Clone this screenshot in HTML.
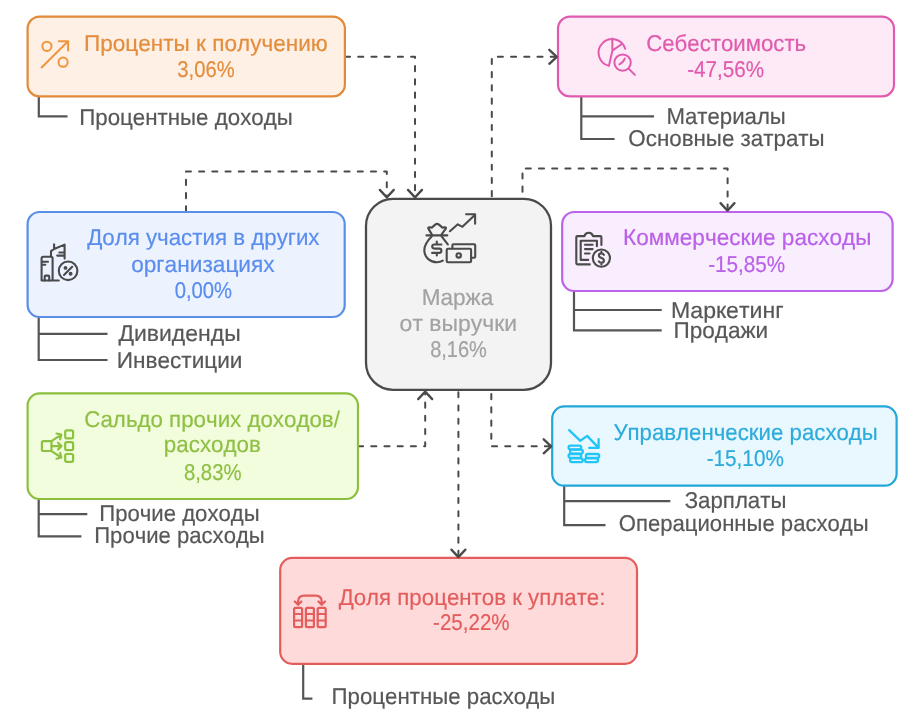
<!DOCTYPE html><html><head><meta charset="utf-8"><style>html,body{margin:0;padding:0;background:#fff;overflow:hidden}svg{display:block;will-change:transform}text{font-family:"Liberation Sans",sans-serif;font-size:22.8px;font-kerning:none;text-rendering:geometricPrecision;stroke-width:0.2px;paint-order:stroke}</style></head><body>
<svg width="921" height="724" viewBox="0 0 921 724">
<rect width="921" height="724" fill="#fff"/>
<g fill="none" stroke="#4A4A4A" stroke-width="2" stroke-linecap="round" stroke-linejoin="round" stroke-dasharray="5.1 8.12">
<path d="M345,56.8 H415 V197"/>
<path d="M186,211.4 V171.6 H386.8 V197"/>
<path d="M491.8,196.2 V56.8 H557"/>
<path d="M522.5,191.7 V168.5 H727.6 V211"/>
<path d="M358,446.2 H425.2 V391"/>
<path d="M491.3,394.1 V446.3 H551.5"/>
<path d="M458.4,392.2 V557"/>
</g>
<g fill="none" stroke="#555555" stroke-width="2.2" stroke-linecap="butt" stroke-linejoin="miter">
<path d="M38.8,96.4 V116.4 H67.5"/>
<path d="M581.3,96.4 V139.0 H614.6 M581.3,116.4 H654.0"/>
<path d="M38.7,317.0 V360.0 H107.5 M38.7,333.9 H107.5"/>
<path d="M574.0,291.0 V330.4 H661.7 M574.0,310.0 H661.7"/>
<path d="M38.7,499.0 V536.4 H81.4 M38.7,514.2 H87.3"/>
<path d="M564.2,485.7 V525.2 H605.5 M564.2,501.1 H670.3"/>
<path d="M303.2,663.8 V698.7 H312.4"/>
</g>
<rect x="27.6" y="16.6" width="317.3" height="79.8" rx="12" fill="#FEF0E4" stroke="#E28A38" stroke-width="2.2"/>
<rect x="558.0" y="16.6" width="336.0" height="79.8" rx="12" fill="#FDEAF6" stroke="#E05BAE" stroke-width="2.2"/>
<rect x="27.6" y="212.0" width="317.1" height="105.0" rx="12" fill="#EDF3FE" stroke="#5B8EE6" stroke-width="2.2"/>
<rect x="562.2" y="212.0" width="330.4" height="79.0" rx="12" fill="#F8EEFE" stroke="#BD62EA" stroke-width="2.2"/>
<rect x="27.6" y="393.4" width="330.4" height="105.6" rx="12" fill="#F2FDDD" stroke="#8CBF3E" stroke-width="2.2"/>
<rect x="552.2" y="406.4" width="344.4" height="79.3" rx="12" fill="#E8F8FE" stroke="#22A7D8" stroke-width="2.2"/>
<rect x="280.2" y="557.9" width="356.8" height="105.9" rx="12" fill="#FFDADA" stroke="#E35D5D" stroke-width="2.2"/>
<rect x="366.0" y="198.8" width="185.0" height="191.0" rx="27" fill="#F3F3F3" stroke="#4A4A4A" stroke-width="2.3"/>
<g fill="none" stroke="#4A4A4A" stroke-width="2.3" stroke-linecap="round" stroke-linejoin="round">
<polyline points="408.0,189.9 415.0,197.4 422.0,189.9"/>
<polyline points="379.8,189.9 386.8,197.4 393.8,189.9"/>
<polyline points="549.3,49.8 556.8,56.8 549.3,63.8"/>
<polyline points="720.5,203.1 727.5,210.6 734.5,203.1"/>
<polyline points="418.2,399.1 425.2,391.6 432.2,399.1"/>
<polyline points="543.7,439.3 551.2,446.3 543.7,453.3"/>
<polyline points="451.4,549.6 458.4,557.1 465.4,549.6"/>
</g>
<g fill="none" stroke="#F0943E" stroke-width="2.0" stroke-linecap="round" stroke-linejoin="round">
<circle cx="46.9" cy="46.3" r="4.6"/><circle cx="63.1" cy="62.2" r="4.6"/>
<path d="M41.6,67.5 L68.1,41.2 M58.8,41.2 H68.1 V50.5"/></g>
<g fill="none" stroke="#E05AAE" stroke-width="2.0" stroke-linecap="round" stroke-linejoin="round">
<path d="M625.2,48.8 A13.6,13.6 0 1 0 608.9,65.9 L612.4,50.6 L612.3,38.6 M612.4,50.6 L622.2,43.8"/>
<circle cx="622.6" cy="62.6" r="8.2"/><path d="M628.6,68.6 L634.9,74.9 M619.4,64.3 Q623.4,62.4 624.8,58.5"/></g>
<g fill="none" stroke="#4A4A4A" stroke-width="2.1" stroke-linecap="round" stroke-linejoin="round">
<path d="M41.6,280.5 V258.3 Q41.6,256.7 43.2,256.7 H51 Q52.6,256.7 52.6,258.3 V280.5 M41.6,280.5 H58.8"/>
<path d="M44.7,280.4 V276.6 Q44.7,275.6 45.7,275.6 H48.2 Q49.2,275.6 49.2,276.6 V280.4"/>
<path d="M42.8,261.8 H48 M42.8,264.7 H45.3"/>
<path d="M51,256.6 V251.2 L54.1,249 L64.6,244.6 V258.6 M54.1,249 V244.3 M59.3,252.5 H64.4 M57.2,255.6 H64.4"/>
<circle cx="68.1" cy="270.8" r="9.3"/><path d="M64,275 L72.2,266.8"/>
<circle cx="65.5" cy="267.9" r="0.9" fill="#4A4A4A"/><circle cx="70.6" cy="273.8" r="0.9" fill="#4A4A4A"/></g>
<g fill="none" stroke="#4A4A4A" stroke-width="2.1" stroke-linecap="round" stroke-linejoin="round">
<path d="M589.8,264.4 H577.4 Q576.3,264.4 576.3,263.3 V237.2 Q576.3,236.1 577.4,236.1 H584.4 C585.1,233.6 586.6,232.7 588.7,232.7 C590.8,232.7 592.3,233.6 593,236.1 H600.3 Q601.4,236.1 601.4,237.2 V245"/>
<path d="M588.2,259.9 H580.7 V240.8 H596.9 V246.2"/>
<path d="M585,244.8 H592.6 M585,249.1 H592.6 M585,253.5 H589.5"/>
<circle cx="601.4" cy="258.1" r="8.6"/>
<path d="M603.9,254.9 Q603.2,253.4 601.4,253.4 Q598.9,253.4 598.9,255.6 Q598.9,257.4 601.4,257.9 Q603.9,258.5 603.9,260.6 Q603.9,262.8 601.4,262.8 Q599.4,262.8 598.8,261.4 M601.4,251.8 V253.4 M601.4,262.8 V264.4"/></g>
<g fill="none" stroke="#8CC240" stroke-width="2.2" stroke-linecap="round" stroke-linejoin="round">
<rect x="41.9" y="441.2" width="9.6" height="9.8" rx="1.6"/>
<rect x="65.2" y="430.4" width="7.9" height="7.9" rx="1.6"/><rect x="65.2" y="442.2" width="7.9" height="7.9" rx="1.6"/><rect x="65.2" y="454" width="7.9" height="7.9" rx="1.6"/>
<path d="M51.5,441.2 L61.3,434.6 M56.5,433.5 L61.3,434.6 L60.2,439.3 M51.5,446.1 H61.5 M58,442.7 L61.5,446.1 L58,449.5 M51.5,451.1 L61.3,457.5 M56.5,458.7 L61.3,457.5 L60.2,452.9"/></g>
<g fill="none" stroke="#22C5F7" stroke-width="2.3" stroke-linecap="round" stroke-linejoin="round">
<path d="M569.2,430.1 L580.3,440.8 L587.2,435.9 L598.6,447.9 M598.6,439.1 V447.9 H589.2"/>
<rect x="568.6" y="445.6" width="12.6" height="3.7" rx="1.8"/><rect x="570.1" y="449.7" width="12.7" height="3.9" rx="1.9"/>
<rect x="568.6" y="454" width="12.6" height="3.9" rx="1.9"/><rect x="570.1" y="458.3" width="12.7" height="3.9" rx="1.9"/>
<rect x="585.9" y="454" width="13.3" height="3.9" rx="1.9"/><rect x="585.0" y="458.3" width="13" height="3.9" rx="1.9"/></g>
<g fill="none" stroke="#E35D5D" stroke-width="2.2" stroke-linecap="round" stroke-linejoin="round">
<rect x="294.1" y="607.8" width="8" height="19.4" rx="1.4"/><rect x="305.9" y="607.8" width="8" height="19.4" rx="1.4"/><rect x="317.7" y="607.8" width="8" height="19.4" rx="1.4"/>
<path d="M294.1,614 H302.1 M294.1,620.5 H302.1 M305.9,614 H313.9 M305.9,620.5 H313.9 M317.7,614 H325.7 M317.7,620.5 H325.7"/>
<path d="M298.1,604.8 V601.5 Q298.1,595.7 304.3,595.7 H315.5 Q321.7,595.7 321.7,601.5 V604.8 M294.8,601.5 L298.1,604.8 L301.4,601.5 M318.4,601.5 L321.7,604.8 L325,601.5"/></g>
<g fill="none" stroke="#4A4A4A" stroke-width="2.1" stroke-linecap="round" stroke-linejoin="round">
<path d="M431.8,234.4 L428.4,228.6 Q427.8,227.1 429.3,227.2 L431.8,227.6 L435.2,224.6 Q437.1,223.2 439,224.6 L442.4,227.6 L444.9,227.2 Q446.4,227.1 445.8,228.6 L441.6,234.4"/>
<path d="M426.5,235.4 H447.3"/>
<path d="M431.8,236.3 C427.2,241 424.3,245 424.3,250.2 C424.3,257.3 430,262.2 437.1,262.2 C439.3,262.2 441.2,261.6 442.8,260.6 M441.6,236.3 L447.8,244.4"/>
<path d="M441.4,244.5 H434.4 Q432.2,244.5 432.2,246.6 Q432.2,248.6 434.4,248.6 H439.3 Q441.4,248.6 441.4,250.8 Q441.4,252.9 439.3,252.9 H432.1 M436.8,241.6 V244.5 M436.8,252.9 V255.4"/>
<path d="M449.9,231.2 L457.8,224.3 L462.4,226.8 L475.1,214.7 M466.1,214.3 H475.1 V223.7"/>
<path d="M452.4,248.5 V245.2 Q452.4,244.2 453.4,244.2 H474.2 Q475.2,244.2 475.2,245.2 V256.8 Q475.2,257.8 474.2,257.8 H471.1"/>
<rect x="446.7" y="248.7" width="24.4" height="13.6" rx="1.2"/>
<circle cx="458.7" cy="255.4" r="2.2"/></g>
<text x="83.97" y="51.00" textLength="243.78" lengthAdjust="spacingAndGlyphs" fill="#E38D3D" stroke="#E38D3D">Проценты к получению</text>
<text x="177.33" y="77.00" textLength="57.29" lengthAdjust="spacingAndGlyphs" fill="#E38D3D" stroke="#E38D3D">3,06%</text>
<text x="79.24" y="125.00" textLength="213.50" lengthAdjust="spacingAndGlyphs" fill="#575757" stroke="#575757">Процентные доходы</text>
<text x="646.17" y="51.00" textLength="160.04" lengthAdjust="spacingAndGlyphs" fill="#E05AAE" stroke="#E05AAE">Себестоимость</text>
<text x="687.18" y="77.00" textLength="76.85" lengthAdjust="spacingAndGlyphs" fill="#E05AAE" stroke="#E05AAE">-47,56%</text>
<text x="666.48" y="124.00" textLength="119.36" lengthAdjust="spacingAndGlyphs" fill="#575757" stroke="#575757">Материалы</text>
<text x="628.34" y="146.00" textLength="196.31" lengthAdjust="spacingAndGlyphs" fill="#575757" stroke="#575757">Основные затраты</text>
<text x="87.14" y="245.00" textLength="232.40" lengthAdjust="spacingAndGlyphs" fill="#5A8DEE" stroke="#5A8DEE">Доля участия в других</text>
<text x="131.15" y="272.00" textLength="143.50" lengthAdjust="spacingAndGlyphs" fill="#5A8DEE" stroke="#5A8DEE">организациях</text>
<text x="174.66" y="298.00" textLength="57.46" lengthAdjust="spacingAndGlyphs" fill="#5A8DEE" stroke="#5A8DEE">0,00%</text>
<text x="118.43" y="341.00" textLength="122.26" lengthAdjust="spacingAndGlyphs" fill="#575757" stroke="#575757">Дивиденды</text>
<text x="116.75" y="368.00" textLength="125.72" lengthAdjust="spacingAndGlyphs" fill="#575757" stroke="#575757">Инвестиции</text>
<text x="623.05" y="245.00" textLength="248.42" lengthAdjust="spacingAndGlyphs" fill="#BB60E8" stroke="#BB60E8">Коммерческие расходы</text>
<text x="708.18" y="272.00" textLength="76.95" lengthAdjust="spacingAndGlyphs" fill="#BB60E8" stroke="#BB60E8">-15,85%</text>
<text x="671.11" y="318.00" textLength="112.47" lengthAdjust="spacingAndGlyphs" fill="#575757" stroke="#575757">Маркетинг</text>
<text x="673.47" y="338.00" textLength="94.69" lengthAdjust="spacingAndGlyphs" fill="#575757" stroke="#575757">Продажи</text>
<text x="84.37" y="427.00" textLength="255.53" lengthAdjust="spacingAndGlyphs" fill="#8FC045" stroke="#8FC045">Сальдо прочих доходов/</text>
<text x="163.86" y="452.00" textLength="97.01" lengthAdjust="spacingAndGlyphs" fill="#8FC045" stroke="#8FC045">расходов</text>
<text x="183.92" y="480.00" textLength="57.61" lengthAdjust="spacingAndGlyphs" fill="#8FC045" stroke="#8FC045">8,83%</text>
<text x="99.31" y="521.00" textLength="160.33" lengthAdjust="spacingAndGlyphs" fill="#575757" stroke="#575757">Прочие доходы</text>
<text x="94.21" y="543.00" textLength="170.52" lengthAdjust="spacingAndGlyphs" fill="#575757" stroke="#575757">Прочие расходы</text>
<text x="613.40" y="440.00" textLength="264.44" lengthAdjust="spacingAndGlyphs" fill="#2DABDB" stroke="#2DABDB">Управленческие расходы</text>
<text x="706.68" y="466.00" textLength="77.16" lengthAdjust="spacingAndGlyphs" fill="#2DABDB" stroke="#2DABDB">-15,10%</text>
<text x="684.67" y="508.00" textLength="101.77" lengthAdjust="spacingAndGlyphs" fill="#575757" stroke="#575757">Зарплаты</text>
<text x="618.85" y="531.00" textLength="249.78" lengthAdjust="spacingAndGlyphs" fill="#575757" stroke="#575757">Операционные расходы</text>
<text x="338.64" y="605.00" textLength="266.80" lengthAdjust="spacingAndGlyphs" fill="#E35D5D" stroke="#E35D5D">Доля процентов к уплате:</text>
<text x="433.09" y="630.00" textLength="76.55" lengthAdjust="spacingAndGlyphs" fill="#E35D5D" stroke="#E35D5D">-25,22%</text>
<text x="331.60" y="704.00" textLength="223.65" lengthAdjust="spacingAndGlyphs" fill="#575757" stroke="#575757">Процентные расходы</text>
<text x="421.75" y="305.00" textLength="71.45" lengthAdjust="spacingAndGlyphs" fill="#A2A2A2" stroke="#A2A2A2">Маржа</text>
<text x="399.64" y="331.00" textLength="117.46" lengthAdjust="spacingAndGlyphs" fill="#A2A2A2" stroke="#A2A2A2">от выручки</text>
<text x="430.13" y="357.00" textLength="56.78" lengthAdjust="spacingAndGlyphs" fill="#A2A2A2" stroke="#A2A2A2">8,16%</text>
</svg></body></html>
